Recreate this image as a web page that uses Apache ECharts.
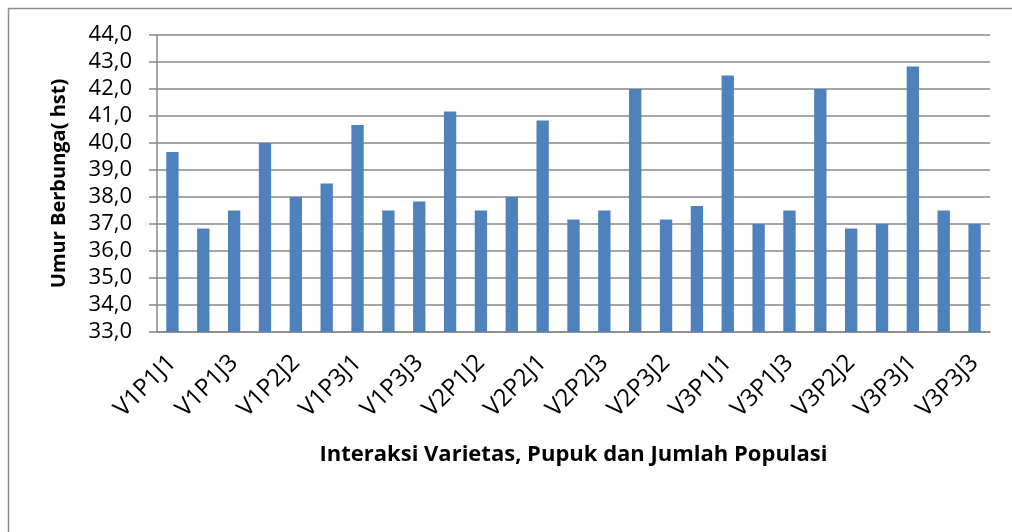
<!DOCTYPE html>
<html>
<head>
<meta charset="utf-8">
<script src="https://cdn.jsdelivr.net/npm/echarts@6/dist/echarts.min.js"></script>
<style>
  html, body { margin: 0; padding: 0; background: #fff; }
  #chart { width: 1012px; height: 532px; }
</style>
</head>
<body>
<div id="chart"></div>
<script>
// perlakuan: varietas (V), pupuk (P), jumlah populasi (J)
const categories = [
  'V1P1J1', 'V1P1J2', 'V1P1J3', 'V1P2J1', 'V1P2J2', 'V1P2J3', 'V1P3J1', 'V1P3J2', 'V1P3J3',
  'V2P1J1', 'V2P1J2', 'V2P1J3', 'V2P2J1', 'V2P2J2', 'V2P2J3', 'V2P3J1', 'V2P3J2', 'V2P3J3',
  'V3P1J1', 'V3P1J2', 'V3P1J3', 'V3P2J1', 'V3P2J2', 'V3P2J3', 'V3P3J1', 'V3P3J2', 'V3P3J3'
]

// umur berbunga (hst)
const umurBerbunga = [
  39.67, 36.83, 37.5, 40.0, 38.0, 38.5, 40.67, 37.5, 37.83,
  41.17, 37.5, 38.0, 40.83, 37.17, 37.5, 42.0, 37.17, 37.67,
  42.5, 37.0, 37.5, 42.0, 36.83, 37.0, 42.83, 37.5, 37.0
]

const yMin = 33
const yMax = 44
const yStep = 1

const font = '"Open Sans", "Noto Sans", sans-serif'
const gridGray = '#888888'

const chart = echarts.init(document.getElementById('chart'))
chart.setOption({
  animation: false,
  textStyle: { fontFamily: font },
  graphic: [{
    type: 'rect',
    shape: { x: 8.5, y: 8.5, width: 1200, height: 700 },
    style: { fill: 'none', stroke: '#8c8c8c', lineWidth: 1.5 },
    silent: true
  }],
  grid: { left: 157, right: 22, top: 35, bottom: 200, containLabel: false, outerBoundsMode: 'none' },
  xAxis: {
    type: 'category',
    data: categories,
    name: 'Interaksi Varietas, Pupuk dan Jumlah Populasi',
    nameLocation: 'middle',
    nameGap: 112,
    nameTextStyle: { fontFamily: font, fontSize: 22, fontWeight: 'bold', color: '#000' },
    axisLine: { lineStyle: { color: gridGray, width: 1.5 } },
    axisTick: { show: false },
    axisLabel: {
      interval: 1,
      rotate: 45,
      margin: 27,
      fontFamily: font,
      fontSize: 24,
      color: '#000'
    }
  },
  yAxis: {
    type: 'value',
    min: yMin,
    max: yMax,
    interval: yStep,
    name: 'Umur Berbunga( hst)',
    nameLocation: 'middle',
    nameGap: 88,
    nameTextStyle: { fontFamily: font, fontSize: 20, fontWeight: 'bold', color: '#000' },
    axisLine: { show: true, lineStyle: { color: gridGray, width: 1.5 } },
    axisTick: { show: true, length: 8, lineStyle: { color: gridGray, width: 1.5 } },
    splitLine: { lineStyle: { color: gridGray, width: 1.5 } },
    axisLabel: {
      margin: 25,
      fontFamily: font,
      fontSize: 22,
      color: '#000',
      formatter: v => v.toFixed(1).replace('.', ',')
    }
  },
  series: [{
    type: 'bar',
    data: umurBerbunga,
    barWidth: '40%',
    itemStyle: { color: '#4F81BD' }
  }]
})
</script>
</body>
</html>
